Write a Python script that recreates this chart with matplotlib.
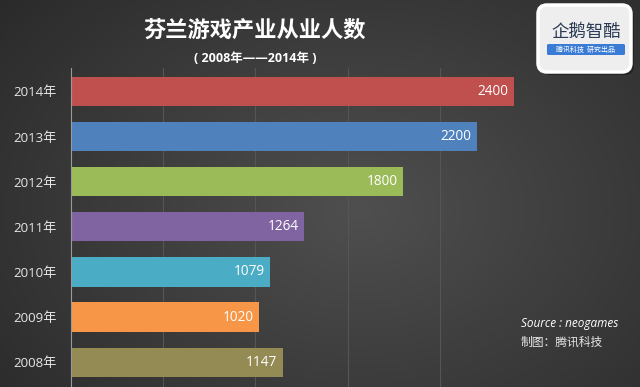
import numpy as np
import matplotlib
matplotlib.use("Agg")
import matplotlib.pyplot as plt
from matplotlib.patches import FancyBboxPatch

plt.rcParams['font.family'] = ['Open Sans', 'Noto Sans CJK SC', 'DejaVu Sans']

years = ["2008年", "2009年", "2010年", "2011年", "2012年", "2013年", "2014年"]
values = [1147, 1020, 1079, 1264, 1800, 2200, 2400]
colors = ["#948A54", "#F79646", "#4BACC6", "#8064A2", "#9BBB59", "#4F81BD", "#C0504D"]
title = "芬兰游戏产业从业人数"
subtitle = "( 2008年——2014年 )"
source_lines = ["Source : neogames", "制图：腾讯科技"]

W, H = 640, 387
fig = plt.figure(figsize=(W / 100, H / 100), dpi=100)

# background gradient
bg = fig.add_axes([0, 0, 1, 1], zorder=0)
yy, xx = np.mgrid[0:H, 0:W]
d = np.sqrt(((xx - 360) / 420.0) ** 2 + ((yy - 210) / 300.0) ** 2)
g = 0.31 - 0.13 * np.clip(d, 0, 1.3)
img = np.dstack([g, g, g])
bg.imshow(img, extent=[0, W, H, 0], aspect='auto')
bg.set_xlim(0, W)
bg.set_ylim(H, 0)
bg.axis('off')

left, right, top, bottom = 71, 532, 68, 387
ax = fig.add_axes([left / W, 1 - bottom / H, (right - left) / W, (bottom - top) / H], zorder=1)
ax.patch.set_alpha(0)
y = np.arange(len(years))
ax.barh(y, values, height=0.65, color=colors, zorder=2)
ax.set_xlim(0, 2500)
ax.set_ylim(-0.55, 6.52)
ax.set_xticks([500, 1000, 1500, 2000])
ax.set_xticklabels([])
ax.tick_params(axis='x', length=0)
ax.grid(axis='x', color='#555555', linewidth=0.8, zorder=0)
ax.set_yticks(y)
ax.set_yticklabels(years, color='#e6e6e6', fontsize=9.5)
ax.tick_params(axis='y', length=0, pad=10)
for s in ['top', 'right', 'bottom']:
    ax.spines[s].set_visible(False)
ax.spines['left'].set_color('#9a9a9a')
ax.spines['left'].set_linewidth(0.8)

for yi, v in zip(y, values):
    ax.text(v - 30, yi, f"{v}", ha='right', va='center', color='white', fontsize=9.8, zorder=3)

fig.text(255 / W, 1 - 30 / H, title, ha='center', va='center', color='white',
         fontsize=16, fontweight='bold', family=['Noto Sans CJK SC'])
fig.text(255 / W, 1 - 58 / H, subtitle, ha='center', va='center', color='white',
         fontsize=9, fontweight='bold', family=['Open Sans', 'Noto Sans CJK SC'])

fig.text(521 / W, 1 - 324 / H, source_lines[0], ha='left', va='center', color='white',
         fontsize=8.5, style='italic')
fig.text(521 / W, 1 - 342 / H, source_lines[1], ha='left', va='center', color='#e6e6e6',
         fontsize=8.5, style='italic', family=['Noto Sans CJK SC'])

# logo
lg = fig.add_axes([0, 0, 1, 1], zorder=3)
lg.set_xlim(0, W)
lg.set_ylim(H, 0)
lg.axis('off')
shadow = FancyBboxPatch((541, 8), 93, 67, boxstyle="round,pad=0,rounding_size=9",
                        facecolor='#1a1a1a', edgecolor='none', alpha=0.6)
lg.add_patch(shadow)
box = FancyBboxPatch((538, 5), 93, 67, boxstyle="round,pad=0,rounding_size=9",
                     facecolor='#eeeeee', edgecolor='white', linewidth=2.5)
lg.add_patch(box)
lg.text(586, 32, "企鹅智酷", ha='center', va='center', color='#2b3a55', fontsize=12.5,
        family=['Noto Sans CJK SC'])
banner = FancyBboxPatch((547, 44), 78, 11, boxstyle="round,pad=0,rounding_size=1.5",
                        facecolor='#3a7bd5', edgecolor='none')
lg.add_patch(banner)
lg.text(586, 49.5, "腾讯科技  研究出品", ha='center', va='center', color='white', fontsize=5,
        family=['Noto Sans CJK SC'])

fig.savefig("out.png", dpi=100)
